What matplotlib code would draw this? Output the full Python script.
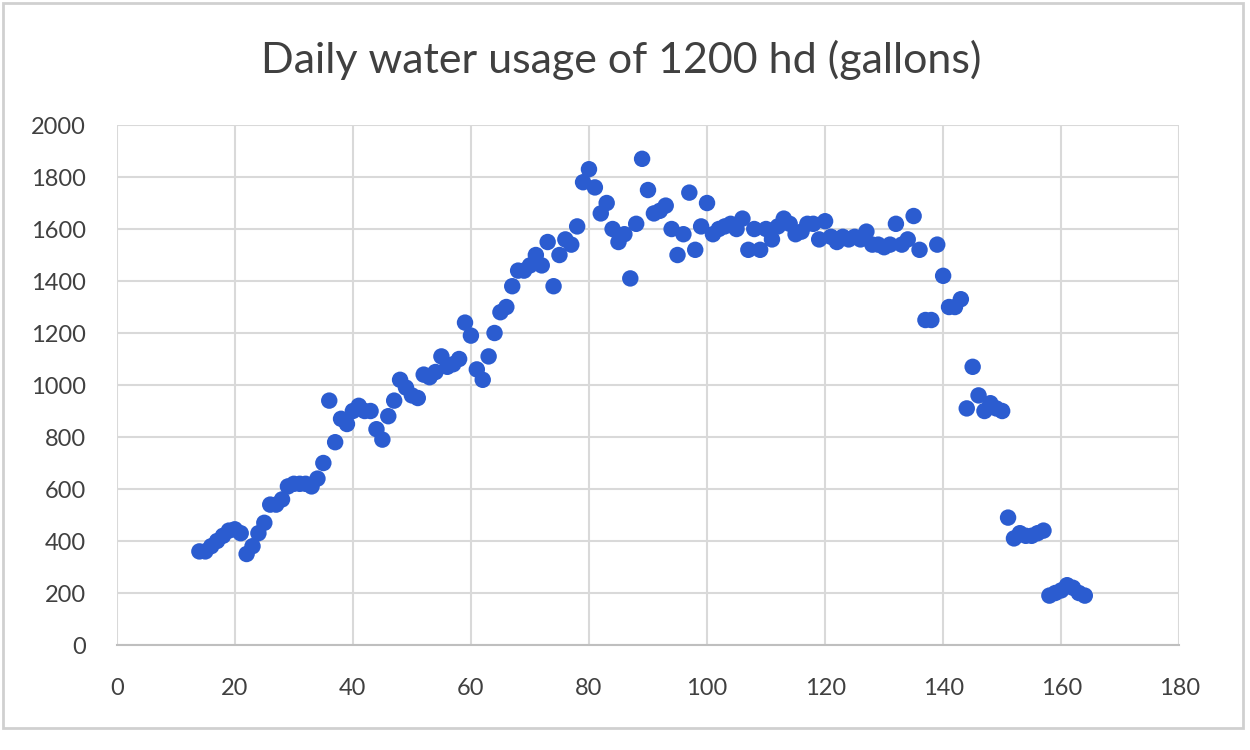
import matplotlib.pyplot as plt
from matplotlib.patches import Rectangle

days = list(range(14, 165))
usage = [
    360, 360, 380, 400, 420, 440, 445, 430, 350, 380,
    430, 470, 540, 540, 560, 610, 620, 620, 620, 610,
    640, 700, 940, 780, 870, 850, 900, 920, 900, 900,
    830, 790, 880, 940, 1020, 990, 960, 950, 1040, 1030,
    1050, 1110, 1070, 1080, 1100, 1240, 1190, 1060, 1020, 1110,
    1200, 1280, 1300, 1380, 1440, 1440, 1460, 1500, 1460, 1550,
    1380, 1500, 1560, 1540, 1610, 1780, 1830, 1760, 1660, 1700,
    1600, 1550, 1580, 1410, 1620, 1870, 1750, 1660, 1670, 1690,
    1600, 1500, 1580, 1740, 1520, 1610, 1700, 1580, 1600, 1610,
    1620, 1600, 1640, 1520, 1600, 1520, 1600, 1560, 1610, 1640,
    1620, 1580, 1590, 1620, 1620, 1560, 1630, 1570, 1550, 1570,
    1560, 1570, 1560, 1590, 1540, 1540, 1530, 1540, 1620, 1540,
    1560, 1650, 1520, 1250, 1250, 1540, 1420, 1300, 1300, 1330,
    910, 1070, 960, 900, 930, 910, 900, 490, 410, 430,
    420, 420, 430, 440, 190, 200, 210, 230, 220, 200,
    190,
]

x_ticks = list(range(0, 181, 20))
y_ticks = list(range(0, 2001, 200))

plt.rcParams["font.family"] = ["Lato", "DejaVu Sans"]

fig = plt.figure(figsize=(12.5, 7.5), dpi=100)
ax = fig.add_axes([0.0934, 0.14, 0.85, 0.6933])

ax.scatter(days, usage, s=140, color="#2b5cd0", edgecolors="none", zorder=3)

ax.set_xlim(0, 180)
ax.set_ylim(0, 2000)
ax.set_xticks(x_ticks)
ax.set_yticks(y_ticks)
ax.tick_params(axis="both", length=0, labelsize=17, colors="#404040")
ax.tick_params(axis="x", pad=24)
ax.tick_params(axis="y", pad=22)
ax.grid(True, color="#d9d9d9", linewidth=1.5)
ax.set_axisbelow(True)
for side in ["top", "right", "left"]:
    ax.spines[side].set_visible(False)
ax.spines["bottom"].set_color("#bfbfbf")
ax.spines["bottom"].set_linewidth(1.5)

fig.text(0.497, 0.92, "Daily water usage of 1200 hd (gallons)",
         ha="center", va="center", fontsize=31, color="#404040")

# outer frame like the spreadsheet chart border
fig.patches.append(Rectangle((0.002, 0.03), 0.992, 0.966, transform=fig.transFigure,
                             fill=False, edgecolor="#d0d0d0", linewidth=2))

fig.savefig("out.png", dpi=100)
